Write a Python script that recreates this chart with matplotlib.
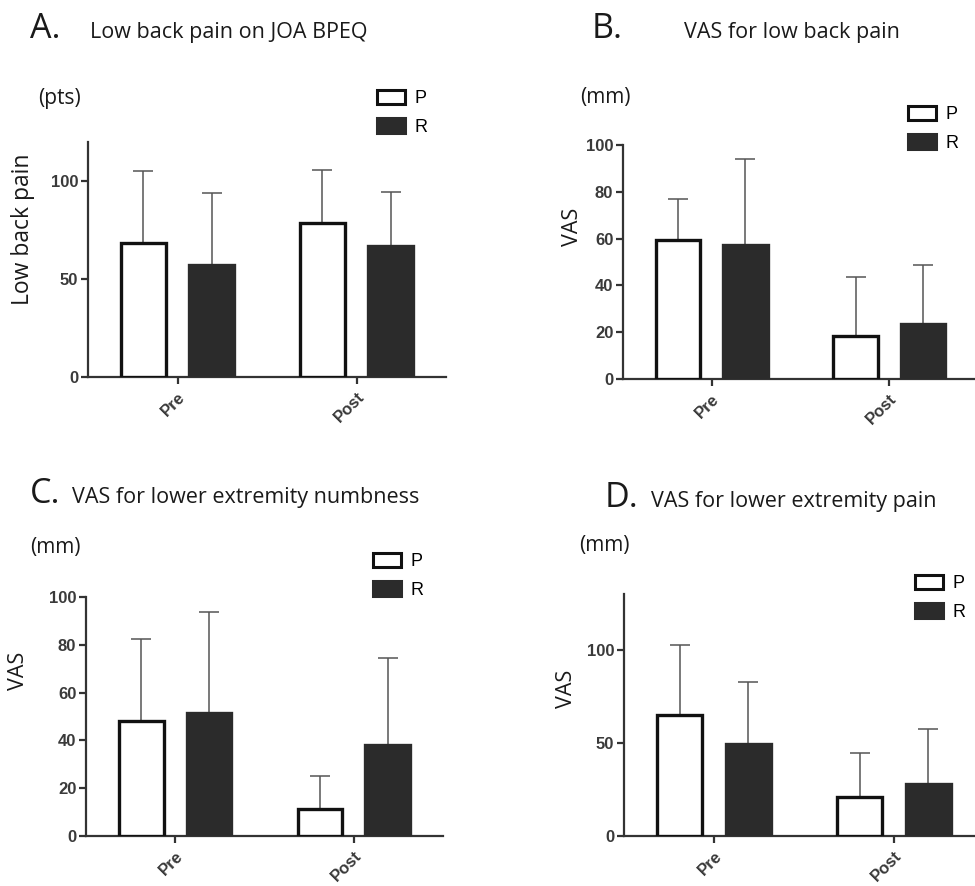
import numpy as np
import matplotlib
matplotlib.use("Agg")
import matplotlib.pyplot as plt
from matplotlib.patches import Patch

groups = ["Pre", "Post"]
series = ["P", "R"]

# A. Low back pain on JOA BPEQ (pts)
a_p = [68.2, 78.8]
a_p_sd = [37.2, 27.1]
a_r = [57.4, 66.9]
a_r_sd = [36.6, 27.7]
# B. VAS for low back pain (mm)
b_p = [59.4, 18.4]
b_p_sd = [17.6, 25.3]
b_r = [57.3, 23.5]
b_r_sd = [36.7, 25.1]
# C. VAS for lower extremity numbness (mm)
c_p = [48.1, 11.2]
c_p_sd = [34.2, 13.9]
c_r = [51.3, 37.9]
c_r_sd = [42.3, 36.7]
# D. VAS for lower extremity pain (mm)
d_p = [65.1, 20.7]
d_p_sd = [37.6, 23.9]
d_r = [49.5, 27.9]
d_r_sd = [33.4, 29.5]

TXT = "Open Sans"
NUM = "Liberation Sans"
AX = "#333333"
DARK = "#2b2b2b"

fig = plt.figure(figsize=(9.75, 8.86), dpi=100)


def px(x0, y0, x1, y1):
    # pixel box -> figure fraction rect
    return [x0 / 975, 1 - y1 / 886, (x1 - x0) / 975, (y1 - y0) / 886]


def panel(rect, p, p_sd, r, r_sd, ymax, yticks):
    ax = fig.add_axes(rect)
    x = np.arange(len(groups))
    w = 0.25
    off = 0.19
    ax.bar(x - off, p, w, color="white", edgecolor="#111111", linewidth=2.4, zorder=3)
    ax.bar(x + off, r, w, color=DARK, edgecolor=DARK, linewidth=2.4, zorder=3)
    ax.errorbar(x - off, p, yerr=[np.zeros(2), p_sd], fmt="none", ecolor="#555555",
                elinewidth=1.1, capsize=7.5, capthick=1.1, zorder=2)
    ax.errorbar(x + off, r, yerr=[np.zeros(2), r_sd], fmt="none", ecolor="#555555",
                elinewidth=1.1, capsize=7.5, capthick=1.1, zorder=2)
    ax.set_xlim(-0.5, 1.5)
    ax.set_ylim(0, ymax)
    ax.set_yticks(yticks)
    ax.set_xticks(x)
    ax.set_xticklabels(groups, rotation=45, ha="right", rotation_mode="anchor")
    for s in ["top", "right"]:
        ax.spines[s].set_visible(False)
    for s in ["left", "bottom"]:
        ax.spines[s].set_linewidth(1.6)
        ax.spines[s].set_color(AX)
    ax.tick_params(width=1.6, length=5, color=AX, labelcolor="#3a3a3a", labelsize=12)
    ax.tick_params(axis="x", pad=4)
    ax.tick_params(axis="y", pad=2)
    for t in ax.get_xticklabels() + ax.get_yticklabels():
        t.set_fontfamily(NUM)
        t.set_fontweight("bold")
    ax.patch.set_alpha(0)
    return ax


def legend(ax, x, y):
    h = [Patch(facecolor="white", edgecolor="#111111", linewidth=2.2),
         Patch(facecolor=DARK, edgecolor=DARK, linewidth=2.2)]
    ax.legend(h, series, loc="upper left", bbox_to_anchor=(x / 975, 1 - y / 886),
              bbox_transform=fig.transFigure, frameon=False,
              prop={"family": NUM, "size": 13}, handlelength=1.55, handleheight=0.85,
              handletextpad=0.55, labelspacing=0.6, borderpad=0, borderaxespad=0)


axA = panel(px(88, 142, 446, 377), a_p, a_p_sd, a_r, a_r_sd, 120, [0, 50, 100])
axB = panel(px(623, 145, 978, 379), b_p, b_p_sd, b_r, b_r_sd, 100, [0, 20, 40, 60, 80, 100])
axC = panel(px(86, 597, 443, 836), c_p, c_p_sd, c_r, c_r_sd, 100, [0, 20, 40, 60, 80, 100])
axD = panel(px(624, 594, 984, 836), d_p, d_p_sd, d_r, d_r_sd, 130, [0, 50, 100])

legend(axA, 377, 90)
legend(axB, 908, 106)
legend(axC, 373, 553)
legend(axD, 915, 575)

# panel letters and titles
def ft(x, y, s, size, **kw):
    fig.text(x / 975, 1 - y / 886, s, fontsize=size, family=TXT, color="#1a1a1a", **kw)

ft(30, 38, "A.", 24.5)
ft(90, 38, "Low back pain on JOA BPEQ", 15.5)
ft(592, 38, "B.", 24.5)
ft(684, 38, "VAS for low back pain", 15.5)
ft(30, 503, "C.", 24.5)
ft(72, 503, "VAS for lower extremity numbness", 15.5)
ft(605, 507, "D.", 24.5)
ft(651, 507, "VAS for lower extremity pain", 15.5)

ft(38, 104, "(pts)", 15)
ft(580, 103, "(mm)", 15)
ft(30, 553, "(mm)", 15)
ft(579, 551, "(mm)", 15)

# y axis labels
def yl(x, y, s, size):
    fig.text(x / 975, 1 - y / 886, s, fontsize=size, family=TXT, color="#1a1a1a",
             rotation=90, ha="center", va="center")

yl(23, 229, "Low back pain", 16.5)
yl(573, 227, "VAS", 15.5)
yl(18, 671, "VAS", 15.5)
yl(567, 689, "VAS", 15.5)

fig.savefig("out.png", dpi=100)
